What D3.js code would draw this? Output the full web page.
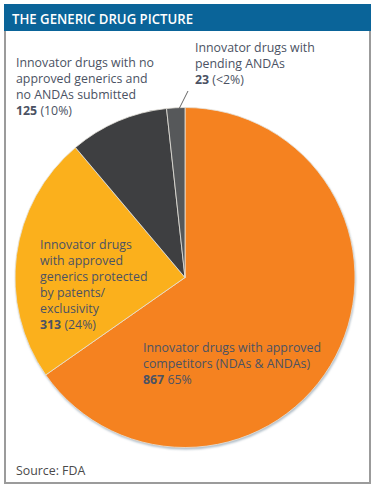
<!DOCTYPE html>
<html><head><meta charset="utf-8">
<script src="https://cdn.jsdelivr.net/npm/d3@7"></script>
<style>html,body{margin:0;padding:0;background:#fff;}svg{display:block;}</style>
</head><body>
<script>
const title = "THE GENERIC DRUG PICTURE";
const source = "Source: FDA";
const categories = [
  "Innovator drugs with approved competitors (NDAs & ANDAs)",
  "Innovator drugs with approved generics protected by patents/ exclusivity",
  "Innovator drugs with no approved generics and no ANDAs submitted",
  "Innovator drugs with pending ANDAs"
];
const values = [867, 313, 125, 23];
const shares = ["65%", "(24%)", "(10%)", "(<2%)"];
const colors = ["#f58220", "#fbb01c", "#3e3f41", "#56585a"];
const labelLines = [
  ["Innovator drugs with approved", "competitors (NDAs & ANDAs)"],
  ["Innovator drugs", "with approved", "generics protected", "by patents/", "exclusivity"],
  ["Innovator drugs with no", "approved generics and", "no ANDAs submitted"],
  ["Innovator drugs with", "pending ANDAs"]
];

const W = 375, H = 489;
const svg = d3.select("body").append("svg").attr("width", W).attr("height", H);
const defs = svg.append("defs");
const f = defs.append("filter").attr("id","sh").attr("x","-10%").attr("y","-10%").attr("width","120%").attr("height","120%");
f.append("feGaussianBlur").attr("stdDeviation", 1.2);

// frame
svg.append("rect").attr("x",5).attr("y",5).attr("width",365).attr("height",478)
  .attr("fill","#fff").attr("stroke","#9b9b9b").attr("stroke-width",2);
svg.append("rect").attr("x",4).attr("y",4).attr("width",367).attr("height",27).attr("fill","#0a6499");
const tt = svg.append("text").attr("x",12).attr("y",23.5).attr("fill","#fff")
  .attr("font-family","'Open Sans', sans-serif").attr("font-weight",600).attr("font-size",13.5)
  .text(title);
tt.attr("textLength",181).attr("lengthAdjust","spacingAndGlyphs");

const cx = 185, cy = 277.5, r = 170;
const g = svg.append("g").attr("transform", `translate(${cx},${cy})`);
g.append("circle").attr("cx",0.8).attr("cy",2).attr("r",r).attr("fill","#aebbc6").attr("filter","url(#sh)");

const pie = d3.pie().sort(null).startAngle(0).endAngle(2*Math.PI);
const arcs = pie(values);
const arc = d3.arc().innerRadius(0).outerRadius(r);
g.selectAll("path.s").data(arcs).enter().append("path").attr("class","s")
  .attr("d", arc).attr("fill",(d,i)=>colors[i])
  .attr("stroke","#e6e3dc").attr("stroke-width",0.8).attr("stroke-linejoin","round");

// labels
const font = "'Open Sans', sans-serif";
const txtColor = "#4b5263";
const lab = svg.append("g").attr("font-family", font).attr("fill", txtColor);
const probe = lab.append("text").attr("font-size",100).text("Innovator drugs with no");
const m = probe.node().getComputedTextLength();
probe.remove();
const fs = 138 / m * 100;
const lh = 16;
const pos = [
  {x:143, y:352},
  {x:40, y:249},
  {x:16, y:67},
  {x:195, y:52}
];
labelLines.forEach((lines, i) => {
  const t = lab.append("text").attr("font-size", fs);
  lines.forEach((ln, j) => {
    t.append("tspan").attr("x", pos[i].x).attr("y", pos[i].y + j*lh).text(ln);
  });
  const last = t.append("tspan").attr("x", pos[i].x).attr("y", pos[i].y + lines.length*lh);
  last.append("tspan").attr("font-weight",700).text(values[i]);
  last.append("tspan").text(" " + shares[i]);
});

// leader line for smallest slice
const a3 = arcs[3];
const mid = (a3.startAngle + a3.endAngle)/2 + 0.02;
const p1 = [cx + (r-1)*Math.sin(mid), cy - (r-1)*Math.cos(mid)];
svg.append("line").attr("x1",188).attr("y1",91).attr("x2",p1[0]).attr("y2",p1[1])
  .attr("stroke","#555").attr("stroke-width",0.9);

svg.append("text").attr("x",16).attr("y",475).attr("font-family",font).attr("font-size",fs)
  .attr("fill","#4a4a4a").text(source);
</script>
</body></html>
